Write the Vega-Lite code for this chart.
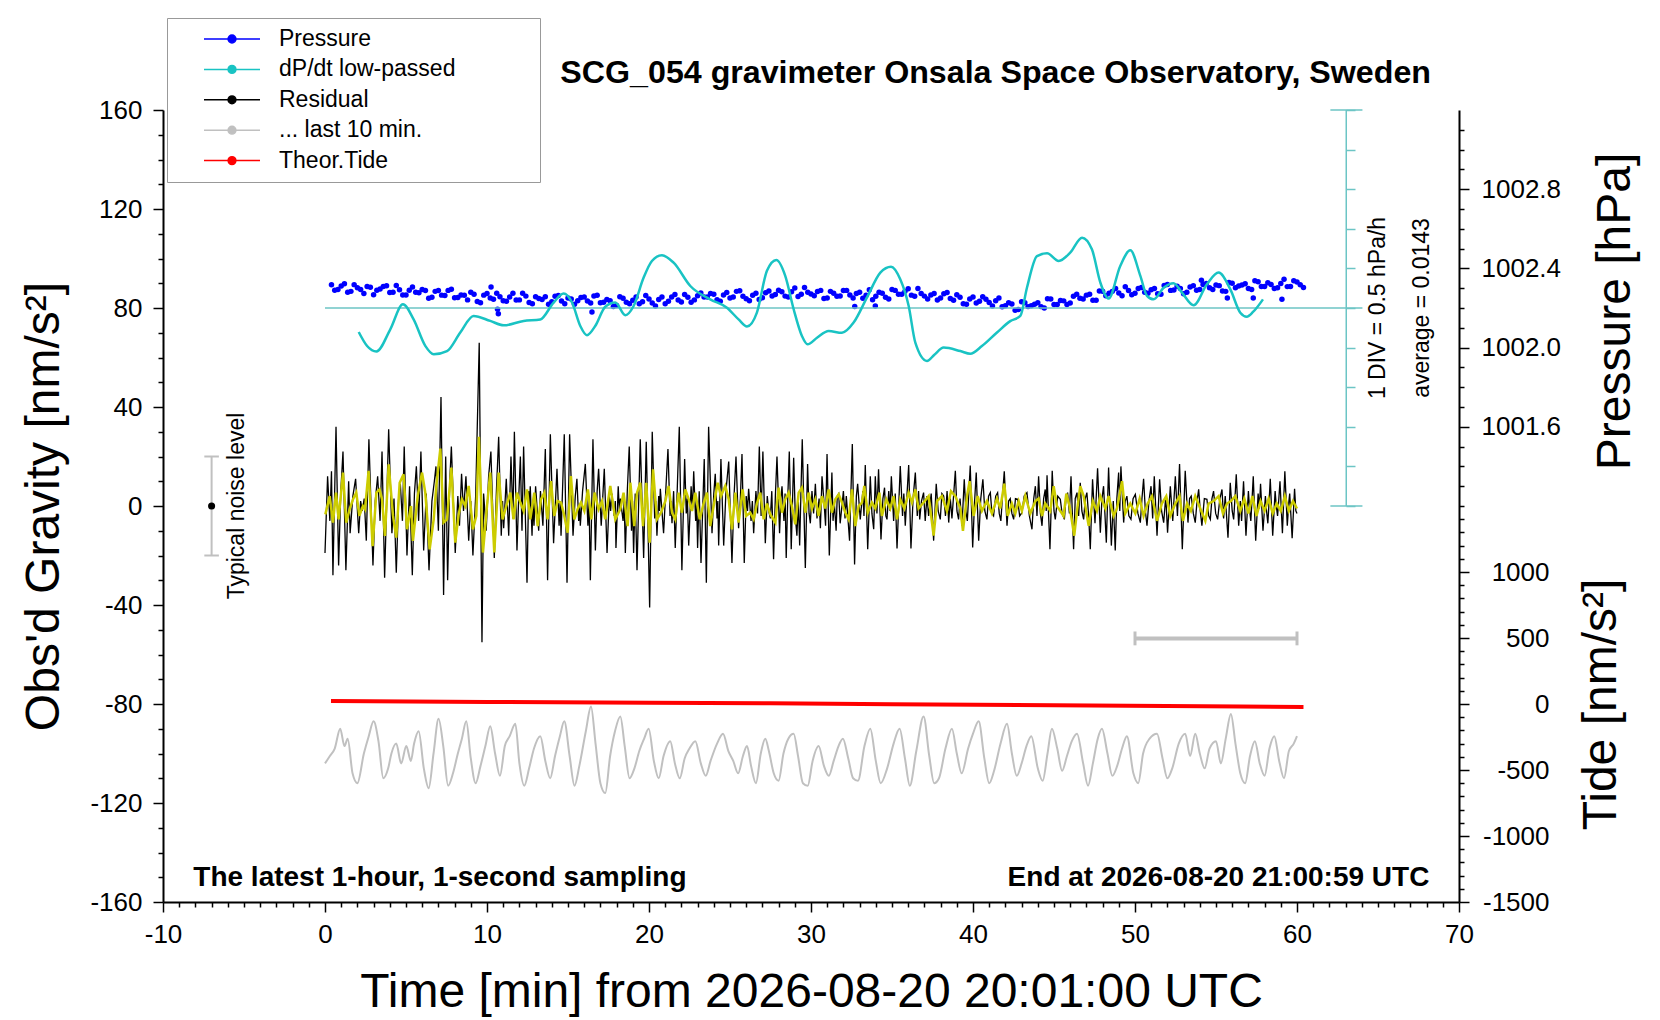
{
"$schema": "https://vega.github.io/schema/vega-lite/v6.json",
"width": 1296,
"height": 792,
"autosize": {"type": "none"},
"padding": {"left": 163, "top": 110, "right": 201, "bottom": 118},
"background": "white",
"config": {
  "font": "Liberation Sans",
  "view": {"stroke": null},
  "axis": {"grid": false, "labelFont": "Liberation Sans", "titleFont": "Liberation Sans", "labelColor": "black", "titleColor": "black", "tickColor": "black", "domainColor": "black", "labelFontSize": 26, "titleFontSize": 48, "titleFontWeight": "normal", "tickWidth": 1.5, "domainWidth": 2, "labelFlush": false, "labelOverlap": false}
},
"title": {"text": "SCG_054 gravimeter Onsala Space Observatory, Sweden", "font": "Liberation Sans", "fontSize": 32.2, "fontWeight": "bold", "color": "black", "anchor": "end", "frame": "group", "dx": -28, "offset": -98, "baseline": "alphabetic"},
"datasets": {
"res": [
{"t":0,"g":-19},{"t":0.16,"g":12},{"t":0.3,"g":-6},{"t":0.4,"g":14},{"t":0.49,"g":-28},{"t":0.68,"g":32},{"t":0.84,"g":-24},{"t":0.97,"g":5},{"t":1.11,"g":22},{"t":1.29,"g":-26},{"t":1.46,"g":10},{"t":1.55,"g":-11},{"t":1.72,"g":4},{"t":1.89,"g":11},{"t":2.08,"g":-11},{"t":2.2,"g":2},{"t":2.3,"g":-2},{"t":2.42,"g":3},{"t":2.55,"g":-14},{"t":2.71,"g":27},{"t":2.96,"g":-24},{"t":3.1,"g":2},{"t":3.25,"g":12},{"t":3.4,"g":-6},{"t":3.52,"g":22},{"t":3.68,"g":-29},{"t":3.93,"g":31},{"t":4.13,"g":-11},{"t":4.26,"g":3},{"t":4.4,"g":-27},{"t":4.55,"g":4},{"t":4.65,"g":9},{"t":4.78,"g":-6},{"t":4.89,"g":24},{"t":5.06,"g":-20},{"t":5.22,"g":8},{"t":5.39,"g":-28},{"t":5.52,"g":5},{"t":5.64,"g":16},{"t":5.78,"g":-6},{"t":5.92,"g":22},{"t":6.09,"g":-18},{"t":6.25,"g":5},{"t":6.42,"g":-26},{"t":6.6,"g":2},{"t":6.75,"g":10},{"t":6.85,"g":16},{"t":7.0,"g":-10},{"t":7.16,"g":44},{"t":7.32,"g":-36},{"t":7.45,"g":20},{"t":7.57,"g":-30},{"t":7.7,"g":10},{"t":7.8,"g":24},{"t":8.04,"g":-19},{"t":8.2,"g":4},{"t":8.3,"g":-8},{"t":8.43,"g":13},{"t":8.55,"g":-2},{"t":8.7,"g":12},{"t":8.87,"g":-14},{"t":9.0,"g":2},{"t":9.13,"g":-20},{"t":9.3,"g":4},{"t":9.52,"g":66},{"t":9.69,"g":-55},{"t":9.79,"g":5},{"t":9.95,"g":-10},{"t":10.1,"g":12},{"t":10.24,"g":22},{"t":10.45,"g":-21},{"t":10.58,"g":6},{"t":10.72,"g":28},{"t":10.88,"g":-12},{"t":10.96,"g":2},{"t":11.03,"g":-9},{"t":11.19,"g":11},{"t":11.34,"g":-12},{"t":11.48,"g":20},{"t":11.6,"g":-5},{"t":11.69,"g":30},{"t":11.85,"g":-18},{"t":11.95,"g":2},{"t":12.06,"g":20},{"t":12.16,"g":-10},{"t":12.26,"g":24},{"t":12.47,"g":-31},{"t":12.57,"g":6},{"t":12.62,"g":-2},{"t":12.67,"g":8},{"t":12.78,"g":-12},{"t":12.84,"g":2},{"t":12.9,"g":-8},{"t":13.0,"g":8},{"t":13.19,"g":-10},{"t":13.3,"g":6},{"t":13.45,"g":-8},{"t":13.6,"g":23},{"t":13.74,"g":-30},{"t":13.91,"g":29},{"t":14.11,"g":-15},{"t":14.32,"g":15},{"t":14.45,"g":-8},{"t":14.52,"g":2},{"t":14.57,"g":-12},{"t":14.68,"g":10},{"t":14.77,"g":29},{"t":14.94,"g":-31},{"t":15.1,"g":29},{"t":15.31,"g":-12},{"t":15.45,"g":4},{"t":15.55,"g":11},{"t":15.66,"g":-6},{"t":15.72,"g":0},{"t":15.76,"g":-8},{"t":15.9,"g":6},{"t":16.07,"g":17},{"t":16.23,"g":-8},{"t":16.3,"g":2},{"t":16.38,"g":-30},{"t":16.54,"g":27},{"t":16.69,"g":-18},{"t":16.8,"g":6},{"t":16.89,"g":15},{"t":17.05,"g":-8},{"t":17.24,"g":15},{"t":17.41,"g":-19},{"t":17.55,"g":4},{"t":17.63,"g":-2},{"t":17.71,"g":5},{"t":17.85,"g":-4},{"t":17.92,"g":2},{"t":17.96,"g":-17},{"t":18.1,"g":8},{"t":18.17,"g":-2},{"t":18.23,"g":3},{"t":18.4,"g":-6},{"t":18.47,"g":2},{"t":18.54,"g":-19},{"t":18.66,"g":6},{"t":18.78,"g":24},{"t":18.92,"g":-10},{"t":18.98,"g":2},{"t":19.05,"g":-19},{"t":19.15,"g":5},{"t":19.26,"g":-26},{"t":19.46,"g":27},{"t":19.67,"g":-21},{"t":19.83,"g":26},{"t":20.04,"g":-41},{"t":20.2,"g":30},{"t":20.35,"g":-5},{"t":20.42,"g":2},{"t":20.49,"g":-12},{"t":20.6,"g":4},{"t":20.65,"g":-2},{"t":20.7,"g":7},{"t":20.9,"g":-11},{"t":21.05,"g":8},{"t":21.17,"g":23},{"t":21.3,"g":-4},{"t":21.36,"g":2},{"t":21.42,"g":-7},{"t":21.52,"g":6},{"t":21.62,"g":-17},{"t":21.75,"g":8},{"t":21.87,"g":32},{"t":22.03,"g":-26},{"t":22.2,"g":19},{"t":22.3,"g":-3},{"t":22.37,"g":3},{"t":22.45,"g":-16},{"t":22.6,"g":8},{"t":22.68,"g":-2},{"t":22.76,"g":14},{"t":22.88,"g":-6},{"t":22.94,"g":2},{"t":23.0,"g":-17},{"t":23.1,"g":6},{"t":23.21,"g":-23},{"t":23.41,"g":19},{"t":23.54,"g":-31},{"t":23.68,"g":32},{"t":23.89,"g":-11},{"t":24.0,"g":5},{"t":24.09,"g":13},{"t":24.2,"g":-5},{"t":24.25,"g":2},{"t":24.3,"g":-16},{"t":24.44,"g":19},{"t":24.61,"g":-16},{"t":24.75,"g":6},{"t":24.92,"g":18},{"t":25.12,"g":-23},{"t":25.25,"g":4},{"t":25.37,"g":20},{"t":25.53,"g":-9},{"t":25.64,"g":3},{"t":25.74,"g":21},{"t":25.88,"g":-23},{"t":26.0,"g":4},{"t":26.08,"g":-2},{"t":26.15,"g":7},{"t":26.3,"g":-6},{"t":26.38,"g":2},{"t":26.46,"g":-11},{"t":26.6,"g":6},{"t":26.7,"g":-3},{"t":26.81,"g":24},{"t":26.92,"g":-4},{"t":27.03,"g":22},{"t":27.18,"g":-15},{"t":27.3,"g":4},{"t":27.39,"g":-2},
{"t":27.49,"g":-5},{"t":27.58,"g":6},{"t":27.69,"g":-21.5},{"t":27.8,"g":4},{"t":27.9,"g":20},{"t":28.06,"g":-11},{"t":28.14,"g":3},{"t":28.21,"g":8},{"t":28.33,"g":-6},{"t":28.4,"g":5},{"t":28.47,"g":-21},{"t":28.56,"g":2},{"t":28.66,"g":22},{"t":28.78,"g":-17.5},{"t":28.93,"g":19.5},{"t":29.03,"g":-4},{"t":29.13,"g":-12},{"t":29.22,"g":2},{"t":29.3,"g":-16},{"t":29.46,"g":27},{"t":29.65,"g":-25},{"t":29.79,"g":17},{"t":29.88,"g":-3},{"t":29.96,"g":-7},{"t":30.06,"g":6},{"t":30.16,"g":-3},{"t":30.27,"g":9},{"t":30.37,"g":-5},{"t":30.5,"g":3},{"t":30.58,"g":-9},{"t":30.68,"g":12},{"t":30.82,"g":0},{"t":30.9,"g":-8},{"t":30.99,"g":21},{"t":31.13,"g":-20},{"t":31.29,"g":13.5},{"t":31.36,"g":-6},{"t":31.44,"g":1.4},{"t":31.55,"g":-10},{"t":31.62,"g":4},{"t":31.71,"g":5},{"t":31.8,"g":-7},{"t":31.91,"g":0},{"t":32.0,"g":6},{"t":32.1,"g":-5},{"t":32.18,"g":4},{"t":32.38,"g":-14},{"t":32.55,"g":25},{"t":32.69,"g":-23.6},{"t":32.8,"g":4},{"t":32.88,"g":9},{"t":33.04,"g":-5.4},{"t":33.2,"g":6},{"t":33.27,"g":-4},{"t":33.35,"g":16.6},{"t":33.5,"g":-17.5},{"t":33.66,"g":12},{"t":33.76,"g":-3},{"t":33.87,"g":-9.4},{"t":33.97,"g":12},{"t":34.07,"g":-3},{"t":34.17,"g":14.8},{"t":34.32,"g":-13.5},{"t":34.44,"g":3},{"t":34.54,"g":7.4},{"t":34.62,"g":-4},{"t":34.69,"g":-5.4},{"t":34.8,"g":6},{"t":34.88,"g":-2},{"t":34.96,"g":12},{"t":35.1,"g":-6},{"t":35.2,"g":5},{"t":35.31,"g":-17.2},{"t":35.51,"g":16.2},{"t":35.65,"g":-4},{"t":35.73,"g":5},{"t":35.82,"g":-8},{"t":35.92,"g":4},{"t":36.03,"g":16.6},{"t":36.17,"g":-17.2},{"t":36.3,"g":3},{"t":36.44,"g":13.5},{"t":36.56,"g":-4},{"t":36.64,"g":6},{"t":36.71,"g":-5.4},{"t":36.82,"g":2},{"t":36.95,"g":5.4},{"t":37.05,"g":-6},{"t":37.16,"g":4},{"t":37.26,"g":-4},{"t":37.42,"g":5},{"t":37.57,"g":-14},{"t":37.73,"g":9},{"t":37.85,"g":-2},{"t":37.98,"g":-5.4},{"t":38.08,"g":5},{"t":38.19,"g":4},{"t":38.3,"g":-4},{"t":38.4,"g":6},{"t":38.5,"g":-6.7},{"t":38.6,"g":3},{"t":38.7,"g":-5},{"t":38.8,"g":4},{"t":38.91,"g":14.2},{"t":39.01,"g":-2},{"t":39.11,"g":-5.4},{"t":39.2,"g":3},{"t":39.32,"g":-8},{"t":39.46,"g":10.8},{"t":39.56,"g":-2},{"t":39.65,"g":-6},{"t":39.74,"g":5},{"t":39.83,"g":16.4},{"t":39.98,"g":-16.8},{"t":40.1,"g":2},{"t":40.2,"g":13.5},{"t":40.35,"g":-14},{"t":40.48,"g":3},{"t":40.61,"g":10.8},{"t":40.73,"g":-2},{"t":40.86,"g":-5.4},{"t":40.96,"g":4},{"t":41.07,"g":5.4},{"t":41.17,"g":-3},{"t":41.27,"g":-4},{"t":41.4,"g":4},{"t":41.52,"g":5.4},{"t":41.62,"g":-3},{"t":41.72,"g":-6},{"t":41.82,"g":4},{"t":41.93,"g":14},{"t":42.1,"g":-8},{"t":42.2,"g":2},{"t":42.3,"g":3},{"t":42.4,"g":-3},{"t":42.51,"g":-5.4},{"t":42.62,"g":3},{"t":42.75,"g":2.7},{"t":42.88,"g":-4},{"t":43.02,"g":-2.7},{"t":43.16,"g":4},{"t":43.33,"g":5.4},{"t":43.48,"g":-4},{"t":43.64,"g":-9.4},{"t":43.75,"g":3},{"t":43.85,"g":8},{"t":43.95,"g":-4},{"t":44.05,"g":12},{"t":44.16,"g":-3},{"t":44.26,"g":-8},{"t":44.36,"g":3},{"t":44.46,"g":6.7},{"t":44.52,"g":-2},{"t":44.57,"g":12.4},{"t":44.75,"g":-17.5},{"t":44.89,"g":14.2},{"t":45.0,"g":-2},{"t":45.08,"g":-5.4},{"t":45.23,"g":4},{"t":45.39,"g":2.7},{"t":45.5,"g":-3},{"t":45.64,"g":-5.4},{"t":45.74,"g":3},{"t":45.84,"g":5.4},{"t":45.95,"g":-3},{"t":46.05,"g":12},{"t":46.21,"g":-17.5},{"t":46.31,"g":3},{"t":46.42,"g":5.4},{"t":46.52,"g":-4},{"t":46.62,"g":9.4},{"t":46.72,"g":-2},{"t":46.83,"g":-5.4},{"t":46.93,"g":3},{"t":47.03,"g":5.4},{"t":47.14,"g":-4},{"t":47.24,"g":-17.5},{"t":47.38,"g":10.8},{"t":47.53,"g":-7},{"t":47.69,"g":15.2},{"t":47.86,"g":-10.8},{"t":47.96,"g":3},{"t":48.06,"g":8},{"t":48.23,"g":-14.8},{"t":48.37,"g":15.5},{"t":48.54,"g":-16},{"t":48.66,"g":2},{"t":48.78,"g":-18},{"t":48.88,"g":3},{"t":48.99,"g":13.5},{"t":49.06,"g":-2},{"t":49.13,"g":16},{"t":49.3,"g":-6.7},{"t":49.4,"g":2},{"t":49.5,"g":4},{"t":49.62,"g":-4},{"t":49.75,"g":-5.4},{"t":49.88,"g":3},{"t":50.02,"g":4.7},{"t":50.18,"g":-3},{"t":50.33,"g":-6.7},{"t":50.43,"g":3},{"t":50.53,"g":11},{"t":50.64,"g":-2},{"t":50.74,"g":-8},{"t":50.86,"g":2},{"t":50.99,"g":8},{"t":51.09,"g":-5},{"t":51.19,"g":12},{"t":51.36,"g":-12},{"t":51.52,"g":10.8},{"t":51.64,"g":-2},{"t":51.77,"g":-6.7},{"t":51.9,"g":4},{"t":52.01,"g":-10.8},{"t":52.18,"g":8},{"t":52.33,"g":-6},{"t":52.49,"g":12},{"t":52.62,"g":-4},{"t":52.75,"g":17},{"t":52.92,"g":-17.5},{"t":53.1,"g":14.2},{"t":53.27,"g":-6.7},{"t":53.37,"g":3},{"t":53.47,"g":4},{"t":53.6,"g":-3},{"t":53.72,"g":-6.7},{"t":53.83,"g":2},{"t":53.93,"g":6.7},{"t":54.03,"g":-2},{"t":54.13,"g":-8},{"t":54.28,"g":3},{"t":54.44,"g":2.7},{"t":54.55,"g":-4},{"t":54.65,"g":-5.4},{"t":54.75,"g":3},{"t":54.85,"g":6},{"t":54.98,"g":-3},{"t":55.1,"g":-5.4},{"t":55.24,"g":3},{"t":55.37,"g":6.7},{"t":55.47,"g":-5},{"t":55.57,"g":4},{"t":55.74,"g":-12.8},{"t":55.88,"g":9.4},{"t":56.0,"g":-2},{"t":56.09,"g":-5.4},{"t":56.17,"g":3},{"t":56.25,"g":12.8},{"t":56.4,"g":-8},{"t":56.5,"g":2},{"t":56.58,"g":-6},{"t":56.7,"g":10},{"t":56.85,"g":-12},{"t":57.0,"g":6},{"t":57.08,"g":-2},{"t":57.15,"g":-6},{"t":57.22,"g":2},{"t":57.3,"g":12},{"t":57.45,"g":-14},{"t":57.6,"g":5},{"t":57.68,"g":-1},{"t":57.75,"g":9},{"t":57.9,"g":-10},{"t":58.05,"g":4},{"t":58.12,"g":-2},{"t":58.2,"g":-7},{"t":58.28,"g":2},{"t":58.35,"g":11},{"t":58.5,"g":-12},{"t":58.65,"g":6},{"t":58.72,"g":0},{"t":58.8,"g":-4},{"t":58.88,"g":3},{"t":58.95,"g":10},{"t":59.1,"g":-11},{"t":59.25,"g":14},{"t":59.4,"g":-8},{"t":59.5,"g":2},{"t":59.55,"g":5},{"t":59.7,"g":-13},{"t":59.85,"g":7},{"t":59.93,"g":-2},{"t":60.0,"g":-3}
],
"yel": [
{"t":0.02,"g":-3.4},{"t":0.29,"g":4},{"t":0.49,"g":-6.7},{"t":0.68,"g":5.4},{"t":0.84,"g":-5.4},{"t":1.11,"g":13.5},{"t":1.31,"g":-6.7},{"t":1.52,"g":-1.3},{"t":1.73,"g":2.7},{"t":1.93,"g":5.4},{"t":2.12,"g":-4},{"t":2.34,"g":0},{"t":2.47,"g":-1.3},{"t":2.69,"g":14.2},{"t":2.94,"g":-16.2},{"t":3.17,"g":5.4},{"t":3.37,"g":6.7},{"t":3.52,"g":2.7},{"t":3.7,"g":-12.1},{"t":3.93,"g":16.8},{"t":4.2,"g":-4},{"t":4.4,"g":-12.8},{"t":4.61,"g":9.4},{"t":4.85,"g":12.8},{"t":5.06,"g":-9.4},{"t":5.31,"g":0},{"t":5.43,"g":-14.1},{"t":5.72,"g":4},{"t":5.99,"g":13.5},{"t":6.19,"g":5.4},{"t":6.46,"g":-17.5},{"t":6.71,"g":-5.4},{"t":6.87,"g":8.1},{"t":7.12,"g":23.2},{"t":7.32,"g":-6.7},{"t":7.53,"g":-5.4},{"t":7.8,"g":15.5},{"t":8.04,"g":-14.8},{"t":8.25,"g":-3.4},{"t":8.45,"g":2.7},{"t":8.66,"g":0},{"t":8.87,"g":8.1},{"t":9.13,"g":-9.4},{"t":9.34,"g":-4},{"t":9.5,"g":28},{"t":9.75,"g":-18.8},{"t":10,"g":0},{"t":10.2,"g":13.5},{"t":10.45,"g":-18.8},{"t":10.72,"g":13.5},{"t":10.96,"g":-5.4},{"t":11.19,"g":0},{"t":11.44,"g":5.4},{"t":11.64,"g":-5.4},{"t":11.85,"g":5.4},{"t":12.06,"g":1.4},{"t":12.26,"g":-2},{"t":12.47,"g":6.7},{"t":12.67,"g":-5.4},{"t":12.92,"g":5.4},{"t":13.13,"g":-8.1},{"t":13.33,"g":2.7},{"t":13.54,"g":5.4},{"t":13.74,"g":-5.4},{"t":13.95,"g":10.1},{"t":14.15,"g":-4},{"t":14.36,"g":2},{"t":14.57,"g":1.4},{"t":14.73,"g":-2.7},{"t":14.98,"g":-10.8},{"t":15.18,"g":12.1},{"t":15.39,"g":-5.4},{"t":15.59,"g":-1.3},{"t":15.8,"g":1.4},{"t":16.01,"g":-2},{"t":16.23,"g":6.7},{"t":16.44,"g":-5.4},{"t":16.64,"g":5.4},{"t":16.89,"g":-1.3},{"t":17.1,"g":2},{"t":17.3,"g":-5.4},{"t":17.61,"g":8.1},{"t":17.92,"g":-5.4},{"t":18.23,"g":-1.3},{"t":18.43,"g":5.4},{"t":18.68,"g":-8.1},{"t":18.85,"g":9.4},{"t":19.09,"g":-8.1},{"t":19.26,"g":5.4},{"t":19.46,"g":9.4},{"t":19.63,"g":-8.1},{"t":19.83,"g":9.4},{"t":20.04,"g":-14.8},{"t":20.25,"g":14.8},{"t":20.49,"g":-5.4},{"t":20.74,"g":-2.7},{"t":21.01,"g":2},{"t":21.21,"g":8.1},{"t":21.42,"g":-2.7},{"t":21.62,"g":-5.4},{"t":21.83,"g":5.4},{"t":22.03,"g":-2.7},{"t":22.24,"g":6.7},{"t":22.45,"g":2.7},{"t":22.65,"g":-2},{"t":22.86,"g":5.4},{"t":23.13,"g":-5.4},{"t":23.37,"g":1},{"t":23.58,"g":5.4},{"t":23.78,"g":-8.1},{"t":23.99,"g":0},{"t":24.24,"g":9.4},{"t":24.44,"g":4},{"t":24.71,"g":8.1},{"t":24.92,"g":2.7},{"t":25.12,"g":-9.4},{"t":25.33,"g":5.4},{"t":25.53,"g":-6.7},{"t":25.78,"g":6.7},{"t":25.99,"g":-4},{"t":26.25,"g":-2.7},{"t":26.46,"g":-5.4},{"t":26.66,"g":1},{"t":26.87,"g":5.4},{"t":27.08,"g":-5.4},{"t":27.28,"g":1},{"t":27.49,"g":-3.4},
{"t":27.8,"g":-6.7},{"t":28.0,"g":7.4},{"t":28.21,"g":-2.7},{"t":28.41,"g":2.7},{"t":28.62,"g":5.4},{"t":28.82,"g":0},{"t":29.03,"g":-7.4},{"t":29.24,"g":5.4},{"t":29.44,"g":7.4},{"t":29.65,"g":-2.7},{"t":29.85,"g":5.4},{"t":30.06,"g":-1},{"t":30.27,"g":2.7},{"t":30.47,"g":-4},{"t":30.68,"g":4},{"t":30.88,"g":-1},{"t":31.09,"g":6.7},{"t":31.29,"g":-2.7},{"t":31.5,"g":2.7},{"t":31.71,"g":4.7},{"t":31.91,"g":1.4},{"t":32.12,"g":-2.7},{"t":32.32,"g":-5.4},{"t":32.53,"g":6.7},{"t":32.73,"g":-8.1},{"t":32.94,"g":0},{"t":33.15,"g":1.4},{"t":33.29,"g":8.1},{"t":33.5,"g":-2.7},{"t":33.76,"g":1.4},{"t":33.97,"g":-1},{"t":34.22,"g":5.4},{"t":34.38,"g":-4},{"t":34.65,"g":2.7},{"t":34.89,"g":-1},{"t":35.1,"g":4},{"t":35.31,"g":-5.4},{"t":35.51,"g":2.7},{"t":35.76,"g":-1},{"t":36.03,"g":5.4},{"t":36.23,"g":1.4},{"t":36.44,"g":6.7},{"t":36.64,"g":-1},{"t":36.95,"g":1.4},{"t":37.26,"g":4},{"t":37.57,"g":-12},{"t":37.78,"g":2},{"t":38.08,"g":4},{"t":38.39,"g":-2},{"t":38.64,"g":6},{"t":38.91,"g":4},{"t":39.22,"g":-1},{"t":39.38,"g":-10},{"t":39.63,"g":4},{"t":39.79,"g":10},{"t":40.04,"g":-4},{"t":40.29,"g":4},{"t":40.55,"g":-2},{"t":40.86,"g":2},{"t":41.17,"g":-3},{"t":41.48,"g":3},{"t":41.68,"g":-1},{"t":41.93,"g":9},{"t":42.14,"g":-4},{"t":42.4,"g":1},{"t":42.61,"g":-3},{"t":42.82,"g":2},{"t":43.02,"g":-2},{"t":43.23,"g":4},{"t":43.54,"g":-3},{"t":43.85,"g":2},{"t":44.05,"g":3},{"t":44.26,"g":-4},{"t":44.46,"g":1},{"t":44.77,"g":-2},{"t":44.98,"g":8},{"t":45.18,"g":0},{"t":45.39,"g":-2},{"t":45.59,"g":-4},{"t":45.76,"g":5},{"t":45.96,"g":0},{"t":46.25,"g":-12},{"t":46.42,"g":-2},{"t":46.62,"g":8},{"t":46.83,"g":4},{"t":47.14,"g":-8},{"t":47.4,"g":2},{"t":47.65,"g":-2},{"t":47.86,"g":4},{"t":48.17,"g":-1},{"t":48.37,"g":4},{"t":48.68,"g":-4},{"t":48.89,"g":-1},{"t":49.2,"g":10},{"t":49.4,"g":-3},{"t":49.71,"g":1},{"t":50.02,"g":-3},{"t":50.29,"g":3},{"t":50.53,"g":-4},{"t":50.78,"g":1},{"t":51.05,"g":4},{"t":51.36,"g":-6},{"t":51.66,"g":1},{"t":51.93,"g":4},{"t":52.18,"g":-4},{"t":52.49,"g":1},{"t":52.75,"g":4},{"t":52.96,"g":-6},{"t":53.21,"g":1},{"t":53.45,"g":-2},{"t":53.72,"g":4},{"t":54.03,"g":-1},{"t":54.34,"g":-6},{"t":54.54,"g":1},{"t":54.85,"g":2},{"t":55.16,"g":4},{"t":55.43,"g":-3},{"t":55.68,"g":1},{"t":55.92,"g":2},{"t":56.19,"g":4},{"t":56.5,"g":-2},{"t":56.75,"g":3},{"t":57.0,"g":-3},{"t":57.25,"g":4},{"t":57.5,"g":-4},{"t":57.75,"g":2},{"t":58.0,"g":-2},{"t":58.25,"g":3},{"t":58.5,"g":-3},{"t":58.75,"g":1},{"t":59.0,"g":-2},{"t":59.25,"g":4},{"t":59.5,"g":-2},{"t":59.75,"g":2},{"t":60.0,"g":-1}
],
"gry": [
{"t":0.0,"g":-104},{"t":0.3,"g":-101},{"t":0.6,"g":-98},{"t":0.94,"g":-90},{"t":1.2,"g":-97},{"t":1.4,"g":-94},{"t":1.7,"g":-108},{"t":2.0,"g":-112},{"t":2.4,"g":-100},{"t":2.7,"g":-93},{"t":3.0,"g":-87},{"t":3.3,"g":-95},{"t":3.6,"g":-110},{"t":3.9,"g":-106},{"t":4.1,"g":-100},{"t":4.4,"g":-96},{"t":4.7,"g":-104},{"t":5.02,"g":-97},{"t":5.3,"g":-103},{"t":5.5,"g":-96},{"t":5.78,"g":-91},{"t":6.1,"g":-106},{"t":6.4,"g":-114},{"t":6.7,"g":-100},{"t":7.01,"g":-86},{"t":7.3,"g":-97},{"t":7.6,"g":-113},{"t":7.9,"g":-108},{"t":8.2,"g":-100},{"t":8.45,"g":-94},{"t":8.72,"g":-87},{"t":9.0,"g":-102},{"t":9.3,"g":-112},{"t":9.6,"g":-105},{"t":9.9,"g":-97},{"t":10.2,"g":-89},{"t":10.5,"g":-100},{"t":10.8,"g":-109},{"t":11.1,"g":-97},{"t":11.4,"g":-93},{"t":11.75,"g":-88},{"t":12.0,"g":-104},{"t":12.3,"g":-113},{"t":12.6,"g":-106},{"t":12.9,"g":-98},{"t":13.29,"g":-93},{"t":13.6,"g":-103},{"t":13.9,"g":-110},{"t":14.2,"g":-101},{"t":14.5,"g":-93},{"t":14.77,"g":-87},{"t":15.1,"g":-101},{"t":15.4,"g":-113},{"t":15.7,"g":-105},{"t":16.1,"g":-91},{"t":16.42,"g":-81},{"t":16.7,"g":-96},{"t":17.0,"g":-112},{"t":17.3,"g":-116},{"t":17.6,"g":-101},{"t":17.9,"g":-91},{"t":18.23,"g":-85},{"t":18.5,"g":-97},{"t":18.8,"g":-110},{"t":19.1,"g":-106},{"t":19.4,"g":-99},{"t":19.7,"g":-94},{"t":19.98,"g":-90},{"t":20.3,"g":-103},{"t":20.6,"g":-110},{"t":20.9,"g":-101},{"t":21.31,"g":-95},{"t":21.6,"g":-104},{"t":21.9,"g":-110},{"t":22.2,"g":-102},{"t":22.5,"g":-98},{"t":22.86,"g":-95},{"t":23.2,"g":-104},{"t":23.5,"g":-109},{"t":23.8,"g":-103},{"t":24.2,"g":-96},{"t":24.57,"g":-92},{"t":24.9,"g":-99},{"t":25.2,"g":-103},{"t":25.5,"g":-108},{"t":25.8,"g":-101},{"t":26.05,"g":-97},{"t":26.3,"g":-105},{"t":26.6,"g":-112},{"t":26.9,"g":-100},{"t":27.18,"g":-94},{"t":27.4,"g":-99},{"t":27.7,"g":-108},{"t":28.0,"g":-111},{"t":28.3,"g":-100},{"t":28.6,"g":-94},{"t":28.93,"g":-92},{"t":29.2,"g":-101},{"t":29.5,"g":-112},{"t":29.8,"g":-113},{"t":30.1,"g":-103},{"t":30.47,"g":-97},{"t":30.8,"g":-105},{"t":31.1,"g":-109},{"t":31.4,"g":-103},{"t":31.7,"g":-97},{"t":31.97,"g":-94},{"t":32.3,"g":-102},{"t":32.6,"g":-110},{"t":32.9,"g":-111},{"t":33.3,"g":-97},{"t":33.66,"g":-90},{"t":34.0,"g":-103},{"t":34.3,"g":-112},{"t":34.7,"g":-106},{"t":35.1,"g":-96},{"t":35.47,"g":-90},{"t":35.8,"g":-102},{"t":36.1,"g":-113},{"t":36.5,"g":-99},{"t":36.95,"g":-85},{"t":37.3,"g":-101},{"t":37.6,"g":-112},{"t":37.9,"g":-110},{"t":38.3,"g":-98},{"t":38.7,"g":-90},{"t":39.0,"g":-100},{"t":39.3,"g":-108},{"t":39.7,"g":-98},{"t":40.0,"g":-92},{"t":40.35,"g":-87},{"t":40.7,"g":-102},{"t":41.0,"g":-112},{"t":41.3,"g":-107},{"t":41.7,"g":-96},{"t":42.1,"g":-88},{"t":42.4,"g":-100},{"t":42.7,"g":-109},{"t":43.0,"g":-104},{"t":43.3,"g":-97},{"t":43.6,"g":-93},{"t":44.0,"g":-106},{"t":44.3,"g":-111},{"t":44.6,"g":-100},{"t":44.87,"g":-90},{"t":45.2,"g":-98},{"t":45.5,"g":-107},{"t":45.8,"g":-101},{"t":46.1,"g":-95},{"t":46.42,"g":-92},{"t":46.8,"g":-104},{"t":47.1,"g":-113},{"t":47.4,"g":-104},{"t":47.7,"g":-94},{"t":47.96,"g":-90},{"t":48.3,"g":-100},{"t":48.6,"g":-109},{"t":48.9,"g":-105},{"t":49.2,"g":-98},{"t":49.5,"g":-93},{"t":49.9,"g":-108},{"t":50.2,"g":-112},{"t":50.5,"g":-100},{"t":50.9,"g":-94},{"t":51.36,"g":-92},{"t":51.7,"g":-102},{"t":52.0,"g":-110},{"t":52.3,"g":-106},{"t":52.7,"g":-96},{"t":53.1,"g":-92},{"t":53.4,"g":-101},{"t":53.72,"g":-92},{"t":54.0,"g":-100},{"t":54.3,"g":-106},{"t":54.6,"g":-98},{"t":55.0,"g":-95},{"t":55.3,"g":-104},{"t":55.6,"g":-94},{"t":55.92,"g":-84},{"t":56.2,"g":-96},{"t":56.5,"g":-108},{"t":56.8,"g":-112},{"t":57.1,"g":-101},{"t":57.4,"g":-95},{"t":57.7,"g":-104},{"t":58.0,"g":-109},{"t":58.3,"g":-98},{"t":58.6,"g":-93},{"t":58.9,"g":-103},{"t":59.2,"g":-110},{"t":59.5,"g":-99},{"t":59.8,"g":-96},{"t":60.0,"g":-93}
],
"prs": [
{"t":0.4,"p":1002.317},{"t":0.8,"p":1002.294},{"t":1.2,"p":1002.323},{"t":1.6,"p":1002.284},{"t":2.0,"p":1002.302},{"t":2.4,"p":1002.273},{"t":2.8,"p":1002.305},{"t":3.2,"p":1002.290},{"t":3.6,"p":1002.309},{"t":4.0,"p":1002.278},{"t":4.4,"p":1002.314},{"t":4.8,"p":1002.266},{"t":5.2,"p":1002.290},{"t":5.6,"p":1002.279},{"t":6.0,"p":1002.293},{"t":6.4,"p":1002.249},{"t":6.8,"p":1002.284},{"t":7.2,"p":1002.265},{"t":7.6,"p":1002.289},{"t":8.0,"p":1002.252},{"t":8.4,"p":1002.266},{"t":8.8,"p":1002.241},{"t":9.2,"p":1002.269},{"t":9.6,"p":1002.227},{"t":10.0,"p":1002.273},{"t":10.4,"p":1002.244},{"t":10.8,"p":1002.257},{"t":11.2,"p":1002.234},{"t":11.6,"p":1002.274},{"t":12.0,"p":1002.241},{"t":12.4,"p":1002.260},{"t":12.8,"p":1002.221},{"t":13.2,"p":1002.248},{"t":13.6,"p":1002.257},{"t":14.0,"p":1002.231},{"t":14.4,"p":1002.263},{"t":14.8,"p":1002.221},{"t":15.2,"p":1002.246},{"t":15.6,"p":1002.237},{"t":16.0,"p":1002.255},{"t":16.4,"p":1002.225},{"t":16.8,"p":1002.264},{"t":17.2,"p":1002.229},{"t":17.6,"p":1002.237},{"t":18.0,"p":1002.213},{"t":18.4,"p":1002.249},{"t":18.8,"p":1002.222},{"t":19.2,"p":1002.256},{"t":19.6,"p":1002.232},{"t":20.0,"p":1002.246},{"t":20.4,"p":1002.210},{"t":20.8,"p":1002.255},{"t":21.2,"p":1002.234},{"t":21.6,"p":1002.268},{"t":22.0,"p":1002.230},{"t":22.4,"p":1002.254},{"t":22.8,"p":1002.241},{"t":23.2,"p":1002.276},{"t":23.6,"p":1002.255},{"t":24.0,"p":1002.269},{"t":24.4,"p":1002.234},{"t":24.8,"p":1002.278},{"t":25.2,"p":1002.255},{"t":25.6,"p":1002.287},{"t":26.0,"p":1002.247},{"t":26.4,"p":1002.264},{"t":26.8,"p":1002.243},{"t":27.2,"p":1002.277},{"t":27.6,"p":1002.261},{"t":28.0,"p":1002.290},{"t":28.4,"p":1002.260},{"t":28.8,"p":1002.282},{"t":29.2,"p":1002.258},{"t":29.6,"p":1002.304},{"t":30.0,"p":1002.271},{"t":30.4,"p":1002.283},{"t":30.8,"p":1002.248},{"t":31.2,"p":1002.284},{"t":31.6,"p":1002.259},{"t":32.0,"p":1002.288},{"t":32.4,"p":1002.266},{"t":32.8,"p":1002.273},{"t":33.2,"p":1002.249},{"t":33.6,"p":1002.292},{"t":34.0,"p":1002.259},{"t":34.4,"p":1002.274},{"t":34.8,"p":1002.246},{"t":35.2,"p":1002.289},{"t":35.6,"p":1002.270},{"t":36.0,"p":1002.297},{"t":36.4,"p":1002.259},{"t":36.8,"p":1002.273},{"t":37.2,"p":1002.246},{"t":37.6,"p":1002.273},{"t":38.0,"p":1002.251},{"t":38.4,"p":1002.278},{"t":38.8,"p":1002.239},{"t":39.2,"p":1002.254},{"t":39.6,"p":1002.219},{"t":40.0,"p":1002.256},{"t":40.4,"p":1002.234},{"t":40.8,"p":1002.244},{"t":41.2,"p":1002.210},{"t":41.6,"p":1002.250},{"t":42.0,"p":1002.211},{"t":42.4,"p":1002.220},{"t":42.8,"p":1002.192},{"t":43.2,"p":1002.227},{"t":43.6,"p":1002.211},{"t":44.0,"p":1002.227},{"t":44.4,"p":1002.200},{"t":44.8,"p":1002.245},{"t":45.2,"p":1002.218},{"t":45.6,"p":1002.236},{"t":46.0,"p":1002.225},{"t":46.4,"p":1002.270},{"t":46.8,"p":1002.246},{"t":47.2,"p":1002.270},{"t":47.6,"p":1002.239},{"t":48.0,"p":1002.285},{"t":48.4,"p":1002.274},{"t":48.8,"p":1002.299},{"t":49.2,"p":1002.262},{"t":49.6,"p":1002.288},{"t":50.0,"p":1002.275},{"t":50.4,"p":1002.304},{"t":50.8,"p":1002.274},{"t":51.2,"p":1002.299},{"t":51.6,"p":1002.270},{"t":52.0,"p":1002.319},{"t":52.4,"p":1002.291},{"t":52.8,"p":1002.299},{"t":53.2,"p":1002.280},{"t":53.6,"p":1002.313},{"t":54.0,"p":1002.294},{"t":54.4,"p":1002.324},{"t":54.8,"p":1002.294},{"t":55.2,"p":1002.313},{"t":55.6,"p":1002.284},{"t":56.0,"p":1002.325},{"t":56.4,"p":1002.311},{"t":56.8,"p":1002.323},{"t":57.2,"p":1002.293},{"t":57.6,"p":1002.333},{"t":58.0,"p":1002.309},{"t":58.4,"p":1002.319},{"t":58.8,"p":1002.302},{"t":59.2,"p":1002.345},{"t":59.6,"p":1002.309},{"t":60.0,"p":1002.331},{"t":60.4,"p":1002.303},
{"t":0.6,"p":1002.290},{"t":1.0,"p":1002.311},{"t":1.4,"p":1002.279},{"t":1.8,"p":1002.318},{"t":2.2,"p":1002.293},{"t":2.6,"p":1002.309},{"t":3.0,"p":1002.267},{"t":3.4,"p":1002.296},{"t":3.8,"p":1002.312},{"t":4.2,"p":1002.279},{"t":4.6,"p":1002.292},{"t":5.0,"p":1002.266},{"t":5.4,"p":1002.306},{"t":5.8,"p":1002.277},{"t":6.2,"p":1002.288},{"t":6.6,"p":1002.254},{"t":7.0,"p":1002.288},{"t":7.4,"p":1002.263},{"t":7.8,"p":1002.295},{"t":8.2,"p":1002.253},{"t":8.6,"p":1002.264},{"t":9.0,"p":1002.279},{"t":9.4,"p":1002.233},{"t":9.8,"p":1002.265},{"t":10.2,"p":1002.250},{"t":10.6,"p":1002.275},{"t":11.0,"p":1002.237},{"t":11.4,"p":1002.256},{"t":11.8,"p":1002.240},{"t":12.2,"p":1002.274},{"t":12.6,"p":1002.228},{"t":13.0,"p":1002.257},{"t":13.4,"p":1002.243},{"t":13.8,"p":1002.219},{"t":14.2,"p":1002.259},{"t":14.6,"p":1002.235},{"t":15.0,"p":1002.250},{"t":15.4,"p":1002.219},{"t":15.8,"p":1002.253},{"t":16.2,"p":1002.235},{"t":16.6,"p":1002.261},{"t":17.0,"p":1002.226},{"t":17.4,"p":1002.243},{"t":17.8,"p":1002.208},{"t":18.2,"p":1002.257},{"t":18.6,"p":1002.229},{"t":19.0,"p":1002.239},{"t":19.4,"p":1002.221},{"t":19.8,"p":1002.263},{"t":20.2,"p":1002.225},{"t":20.6,"p":1002.243},{"t":21.0,"p":1002.221},{"t":21.4,"p":1002.256},{"t":21.8,"p":1002.240},{"t":22.2,"p":1002.268},{"t":22.6,"p":1002.229},{"t":23.0,"p":1002.262},{"t":23.4,"p":1002.256},{"t":23.8,"p":1002.273},{"t":24.2,"p":1002.242},{"t":24.6,"p":1002.266},{"t":25.0,"p":1002.251},{"t":25.4,"p":1002.284},{"t":25.8,"p":1002.259},{"t":26.2,"p":1002.237},{"t":26.6,"p":1002.275},{"t":27.0,"p":1002.252},{"t":27.4,"p":1002.286},{"t":27.8,"p":1002.268},{"t":28.2,"p":1002.282},{"t":28.6,"p":1002.256},{"t":29.0,"p":1002.301},{"t":29.4,"p":1002.270},{"t":29.8,"p":1002.279},{"t":30.2,"p":1002.262},{"t":30.6,"p":1002.289},{"t":31.0,"p":1002.250},{"t":31.4,"p":1002.275},{"t":31.8,"p":1002.261},{"t":32.2,"p":1002.289},{"t":32.6,"p":1002.251},{"t":33.0,"p":1002.279},{"t":33.4,"p":1002.264},{"t":33.8,"p":1002.242},{"t":34.2,"p":1002.280},{"t":34.6,"p":1002.254},{"t":35.0,"p":1002.294},{"t":35.4,"p":1002.270},{"t":35.8,"p":1002.284},{"t":36.2,"p":1002.265},{"t":36.6,"p":1002.298},{"t":37.0,"p":1002.260},{"t":37.4,"p":1002.266},{"t":37.8,"p":1002.240},{"t":38.2,"p":1002.272},{"t":38.6,"p":1002.248},{"t":39.0,"p":1002.267},{"t":39.4,"p":1002.222},{"t":39.8,"p":1002.246},{"t":40.2,"p":1002.225},{"t":40.6,"p":1002.257},{"t":41.0,"p":1002.228},{"t":41.4,"p":1002.237},{"t":41.8,"p":1002.206},{"t":42.2,"p":1002.226},{"t":42.6,"p":1002.189},{"t":43.0,"p":1002.231},{"t":43.4,"p":1002.207},{"t":43.8,"p":1002.219},{"t":44.2,"p":1002.207},{"t":44.6,"p":1002.247},{"t":45.0,"p":1002.218},{"t":45.4,"p":1002.238},{"t":45.8,"p":1002.218},{"t":46.2,"p":1002.259},{"t":46.6,"p":1002.249},{"t":47.0,"p":1002.265},{"t":47.4,"p":1002.239},{"t":47.8,"p":1002.286},{"t":48.2,"p":1002.262},{"t":48.6,"p":1002.284},{"t":49.0,"p":1002.276},{"t":49.4,"p":1002.307},{"t":49.8,"p":1002.267},{"t":50.2,"p":1002.298},{"t":50.6,"p":1002.280},{"t":51.0,"p":1002.292},{"t":51.4,"p":1002.272},{"t":51.8,"p":1002.314},{"t":52.2,"p":1002.289},{"t":52.6,"p":1002.310},{"t":53.0,"p":1002.272},{"t":53.4,"p":1002.306},{"t":53.8,"p":1002.290},{"t":54.2,"p":1002.319},{"t":54.6,"p":1002.302},{"t":55.0,"p":1002.316},{"t":55.4,"p":1002.286},{"t":55.8,"p":1002.329},{"t":56.2,"p":1002.302},{"t":56.6,"p":1002.316},{"t":57.0,"p":1002.298},{"t":57.4,"p":1002.338},{"t":57.8,"p":1002.309},{"t":58.2,"p":1002.328},{"t":58.6,"p":1002.298},{"t":59.0,"p":1002.324},{"t":59.4,"p":1002.308},{"t":59.8,"p":1002.338},{"t":60.2,"p":1002.317},
{"t":10.25,"p":1002.306},{"t":10.65,"p":1002.194},{"t":10.7,"p":1002.171},{"t":16.48,"p":1002.180},{"t":32.7,"p":1002.208},{"t":33.97,"p":1002.210},{"t":54.1,"p":1002.340},{"t":55.7,"p":1002.250},{"t":57.3,"p":1002.250},{"t":59.07,"p":1002.244}
],
"tid": [
{"t":0.37,"v":22.5},{"t":10,"v":16},{"t":20,"v":10},{"t":27.5,"v":5},{"t":35,"v":-1},{"t":45,"v":-9},{"t":56.5,"v":-19.7},{"t":60.4,"v":-23}
],
"dpd": [
{"t":2.08,"d":-0.303},{"t":2.6,"d":-0.48},{"t":3.17,"d":-0.55},{"t":4.03,"d":-0.269},{"t":4.81,"d":0.047},{"t":5.47,"d":-0.144},{"t":6.19,"d":-0.478},{"t":6.71,"d":-0.584},{"t":7.53,"d":-0.544},{"t":8.35,"d":-0.309},{"t":9.17,"d":-0.1},{"t":10.2,"d":-0.163},{"t":11.03,"d":-0.219},{"t":12.26,"d":-0.163},{"t":13.29,"d":-0.144},{"t":14.11,"d":0.069},{"t":14.73,"d":0.184},{"t":15.25,"d":0.069},{"t":15.76,"d":-0.228},{"t":16.17,"d":-0.344},{"t":16.68,"d":-0.228},{"t":17.3,"d":0.016},{"t":17.92,"d":0.069},{"t":18.54,"d":-0.091},{"t":19.05,"d":0.025},{"t":19.67,"d":0.384},{"t":20.18,"d":0.594},{"t":20.8,"d":0.666},{"t":21.52,"d":0.572},{"t":22.55,"d":0.278},{"t":23.78,"d":0.109},{"t":24.81,"d":0.003},{"t":25.53,"d":-0.144},{"t":26.05,"d":-0.234},{"t":26.66,"d":-0.059},{"t":27.28,"d":0.469},{"t":27.86,"d":0.606},{"t":28.41,"d":0.406},{"t":28.93,"d":-0.016},{"t":29.44,"d":-0.353},{"t":29.79,"d":-0.459},{"t":30.37,"d":-0.375},{"t":31.09,"d":-0.291},{"t":31.91,"d":-0.313},{"t":32.63,"d":-0.184},{"t":33.45,"d":0.131},{"t":34.28,"d":0.447},{"t":34.94,"d":0.522},{"t":35.51,"d":0.363},{"t":36.03,"d":0.025},{"t":36.44,"d":-0.438},{"t":37.16,"d":-0.669},{"t":37.6,"d":-0.594},{"t":38.19,"d":-0.5},{"t":39.22,"d":-0.544},{"t":39.83,"d":-0.578},{"t":40.55,"d":-0.481},{"t":41.48,"d":-0.309},{"t":42.3,"d":-0.166},{"t":42.92,"d":-0.1},{"t":43.33,"d":0.256},{"t":43.95,"d":0.656},{"t":44.57,"d":0.691},{"t":45.29,"d":0.594},{"t":46.0,"d":0.7},{"t":46.73,"d":0.888},{"t":47.34,"d":0.741},{"t":47.86,"d":0.322},{"t":48.37,"d":0.119},{"t":49.09,"d":0.531},{"t":49.71,"d":0.728},{"t":50.33,"d":0.406},{"t":50.74,"d":0.153},{"t":51.15,"d":0.109},{"t":51.77,"d":0.256},{"t":52.38,"d":0.313},{"t":52.9,"d":0.194},{"t":53.62,"d":0.034},{"t":54.44,"d":0.3},{"t":55.16,"d":0.447},{"t":55.88,"d":0.238},{"t":56.5,"d":-0.059},{"t":56.9,"d":-0.109},{"t":57.3,"d":-0.047},{"t":57.9,"d":0.109}
]
},
"layer": [
{
  "data": {"name": "res"},
  "mark": {"type": "line", "strokeWidth": 1.3},
  "encoding": {
    "x": {"field": "t", "type": "quantitative", "scale": {"domain": [-10, 70], "nice": false, "zero": false},
      "axis": {"orient": "bottom", "values": [-10,-9,-8,-7,-6,-5,-4,-3,-2,-1,0,1,2,3,4,5,6,7,8,9,10,11,12,13,14,15,16,17,18,19,20,21,22,23,24,25,26,27,28,29,30,31,32,33,34,35,36,37,38,39,40,41,42,43,44,45,46,47,48,49,50,51,52,53,54,55,56,57,58,59,60,61,62,63,64,65,66,67,68,69,70],
        "tickSize": {"condition": {"test": "datum.value % 10 === 0", "value": 10}, "value": 5},
        "labelExpr": "datum.value % 10 === 0 ? '' + datum.value : ''",
        "labelPadding": 9,
        "title": "Time [min] from 2026-08-20 20:01:00 UTC", "titleX": 648, "titleY": 104, "titleAlign": "center", "titleBaseline": "alphabetic"}},
    "y": {"field": "g", "type": "quantitative", "scale": {"domain": [-160, 160], "nice": false, "zero": false},
      "axis": {"orient": "left", "values": [-160,-150,-140,-130,-120,-110,-100,-90,-80,-70,-60,-50,-40,-30,-20,-10,0,10,20,30,40,50,60,70,80,90,100,110,120,130,140,150,160],
        "tickSize": {"condition": {"test": "datum.value % 40 === 0", "value": 10}, "value": 5},
        "labelExpr": "datum.value % 40 === 0 ? '' + datum.value : ''",
        "labelPadding": 11,
        "title": "Obs'd Gravity [nm/s²]", "titleAngle": 270, "titleX": -119, "titleY": 396, "titleAlign": "center", "titleBaseline": "middle"}},
    "color": {"datum": "Residual", "type": "nominal",
      "scale": {"domain": ["Pressure", "dP/dt low-passed", "Residual", "... last 10 min.", "Theor.Tide"], "range": ["#0000ff", "#19c3c3", "#000000", "#c0c0c0", "#ff0000"]},
      "legend": {"orient": "none", "legendX": 4, "legendY": -92, "padding": 8,
        "title": "\u00a0", "titleOrient": "right", "titlePadding": 77, "titleFontSize": 10,
        "strokeColor": "#999999", "fillColor": "white",
        "symbolType": "M-1,0L1,0M0.14,0A0.14,0.14,0,1,1,-0.14,0A0.14,0.14,0,1,1,0.14,0Z",
        "symbolSize": 3136, "symbolStrokeWidth": 1.5, "symbolOffset": 28, "labelOffset": 18,
        "clipHeight": 26, "rowPadding": 4.4,
        "labelFont": "Liberation Sans", "labelFontSize": 23, "labelColor": "black", "labelBaseline": "middle", "labelLimit": 500}
    }
  }
},
{
  "encoding": {
    "x": {"field": "t", "type": "quantitative", "scale": {"domain": [-10, 70], "nice": false, "zero": false}, "axis": null},
    "y": {"field": "g", "type": "quantitative", "scale": {"domain": [-160, 160], "nice": false, "zero": false}, "axis": null}
  },
  "layer": [
    {
      "data": {"name": "yel"},
      "mark": {"type": "line", "strokeWidth": 2.5, "color": "#cccc00"},
      "encoding": {
        "x": {"field": "t", "type": "quantitative", "scale": {"domain": [-10, 70], "nice": false, "zero": false},
          "axis": {"orient": "top", "values": [-10,-9,-8,-7,-6,-5,-4,-3,-2,-1,0,1,2,3,4,5,6,7,8,9,10,11,12,13,14,15,16,17,18,19,20,21,22,23,24,25,26,27,28,29,30,31,32,33,34,35,36,37,38,39,40,41,42,43,44,45,46,47,48,49,50,51,52,53,54,55,56,57,58,59,60,61,62,63,64,65,66,67,68,69,70],
            "tickSize": {"condition": {"test": "datum.value % 10 === 0", "value": 10}, "value": 5},
            "labels": false, "title": null}}
      }
    },
    {
      "data": {"name": "gry"},
      "mark": {"type": "line", "strokeWidth": 2, "interpolate": "monotone"},
      "encoding": {"color": {"datum": "... last 10 min.", "type": "nominal", "legend": null}}
    },
    {
      "data": {"values": [{"t": -7, "g": -20, "g2": 20}]},
      "mark": {"type": "rule", "color": "#c0c0c0", "strokeWidth": 2},
      "encoding": {"y2": {"field": "g2"}}
    },
    {
      "data": {"values": [{"t": -7.45, "t2": -6.55, "g": 20}, {"t": -7.45, "t2": -6.55, "g": -20}]},
      "mark": {"type": "rule", "color": "#c0c0c0", "strokeWidth": 2},
      "encoding": {"x2": {"field": "t2"}}
    },
    {
      "data": {"values": [{"t": -7, "g": 0}]},
      "mark": {"type": "point", "filled": true, "color": "black", "size": 50, "opacity": 1}
    },
    {
      "data": {"values": [{"t": 50, "t2": 60, "g": -53.5}]},
      "mark": {"type": "rule", "color": "#c0c0c0", "strokeWidth": 4},
      "encoding": {"x2": {"field": "t2"}}
    },
    {
      "data": {"values": [{"t": 50, "g": -56.3, "g2": -50.7}, {"t": 60, "g": -56.3, "g2": -50.7}]},
      "mark": {"type": "rule", "color": "#c0c0c0", "strokeWidth": 3},
      "encoding": {"y2": {"field": "g2"}}
    },
    {
      "data": {"values": [{"t": -5.45, "g": 0, "s": "Typical noise level"}]},
      "mark": {"type": "text", "angle": 270, "align": "center", "baseline": "middle", "fontSize": 23, "color": "black", "font": "Liberation Sans"},
      "encoding": {"text": {"field": "s"}}
    },
    {
      "data": {"values": [{"t": -8.13, "g": -153.7, "s": "The latest 1-hour, 1-second sampling"}]},
      "mark": {"type": "text", "align": "left", "baseline": "alphabetic", "fontSize": 28, "fontWeight": "bold", "color": "black", "font": "Liberation Sans"},
      "encoding": {"text": {"field": "s"}}
    },
    {
      "data": {"values": [{"t": 68.17, "g": -153.7, "s": "End at 2026-08-20 21:00:59 UTC"}]},
      "mark": {"type": "text", "align": "right", "baseline": "alphabetic", "fontSize": 28, "fontWeight": "bold", "color": "black", "font": "Liberation Sans"},
      "encoding": {"text": {"field": "s"}}
    }
  ]
},
{
  "data": {"name": "prs"},
  "mark": {"type": "point", "filled": true, "size": 30, "opacity": 1},
  "encoding": {
    "x": {"field": "t", "type": "quantitative", "scale": {"domain": [-10, 70], "nice": false, "zero": false}, "axis": null},
    "y": {"field": "p", "type": "quantitative", "scale": {"domain": [999.2, 1003.2], "nice": false, "zero": false},
      "axis": {"orient": "right", "values": [1001.2,1001.3,1001.4,1001.5,1001.6,1001.7,1001.8,1001.9,1002.0,1002.1,1002.2,1002.3,1002.4,1002.5,1002.6,1002.7,1002.8,1002.9,1003.0,1003.1],
        "tickSize": {"condition": {"test": "round(datum.value*10) % 4 === 0 && datum.value > 1001.5", "value": 10}, "value": 5},
        "labelExpr": "round(datum.value*10) % 4 === 0 && datum.value > 1001.5 ? format(datum.value, '.1f') : ''",
        "labelAlign": "left", "labelPadding": 12, "labelBaseline": "middle",
        "title": "Pressure [hPa]", "titleAngle": 270, "titleX": 156, "titleY": 201, "titleAlign": "center", "titleBaseline": "middle"}},
    "color": {"datum": "Pressure", "type": "nominal", "legend": null}
  }
},
{
  "data": {"name": "tid"},
  "mark": {"type": "line", "strokeWidth": 4},
  "encoding": {
    "x": {"field": "t", "type": "quantitative", "scale": {"domain": [-10, 70], "nice": false, "zero": false}, "axis": null},
    "y": {"field": "v", "type": "quantitative", "scale": {"domain": [-1500, 4500], "nice": false, "zero": false},
      "axis": {"orient": "right", "domain": false, "values": [-1500,-1400,-1300,-1200,-1100,-1000,-900,-800,-700,-600,-500,-400,-300,-200,-100,0,100,200,300,400,500,600,700,800,900,1000,1100,1200,1300,1400],
        "tickSize": {"condition": {"test": "datum.value % 500 === 0", "value": 10}, "value": 5},
        "labelExpr": "datum.value % 500 === 0 && datum.value <= 1000 ? '' + datum.value : ''",
        "labelAlign": "right", "labelPadding": 80, "labelBaseline": "middle",
        "title": "Tide [nm/s²]", "titleAngle": 270, "titleX": 142, "titleY": 594, "titleAlign": "center", "titleBaseline": "middle"}},
    "color": {"datum": "Theor.Tide", "type": "nominal", "legend": null}
  }
},
{
  "encoding": {
    "x": {"field": "t", "type": "quantitative", "scale": {"domain": [-10, 70], "nice": false, "zero": false}, "axis": null},
    "y": {"field": "d", "type": "quantitative", "scale": {"domain": [-7.5, 2.5], "nice": false, "zero": false}, "axis": null}
  },
  "layer": [
    {
      "data": {"values": [{"t": 0, "t2": 64.04, "d": 0}, {"t": 62.06, "t2": 64.04, "d": 2.5}, {"t": 62.06, "t2": 64.04, "d": -2.5}]},
      "mark": {"type": "rule", "color": "#6cc5c5", "strokeWidth": 1.5},
      "encoding": {"x2": {"field": "t2"}}
    },
    {
      "data": {"values": [{"t": 63.04, "d": -2.5, "d2": 2.5}]},
      "mark": {"type": "rule", "color": "#6cc5c5", "strokeWidth": 1.5},
      "encoding": {"y2": {"field": "d2"}}
    },
    {
      "data": {"values": [{"t": 65.02, "d": 0, "s": "1 DIV = 0.5 hPa/h"}, {"t": 67.7, "d": 0, "s": "average = 0.0143"}]},
      "mark": {"type": "text", "angle": 270, "align": "center", "baseline": "middle", "fontSize": 23, "color": "black", "font": "Liberation Sans"},
      "encoding": {"text": {"field": "s"}}
    }
  ]
},
{
  "data": {"name": "dpd"},
  "mark": {"type": "line", "strokeWidth": 2.5, "interpolate": "monotone"},
  "encoding": {
    "x": {"field": "t", "type": "quantitative", "scale": {"domain": [-10, 70], "nice": false, "zero": false}, "axis": null},
    "y": {"field": "d", "type": "quantitative", "scale": {"domain": [-7.5, 2.5], "nice": false, "zero": false},
      "axis": {"orient": "right", "offset": -113, "domain": false, "labels": false, "title": null,
        "values": [-2.5,-2,-1.5,-1,-0.5,0,0.5,1,1.5,2,2.5], "tickSize": 9, "tickColor": "#6cc5c5", "tickWidth": 1.5}},
    "color": {"datum": "dP/dt low-passed", "type": "nominal", "legend": null}
  }
}
],
"resolve": {"scale": {"y": "independent"}}
}
